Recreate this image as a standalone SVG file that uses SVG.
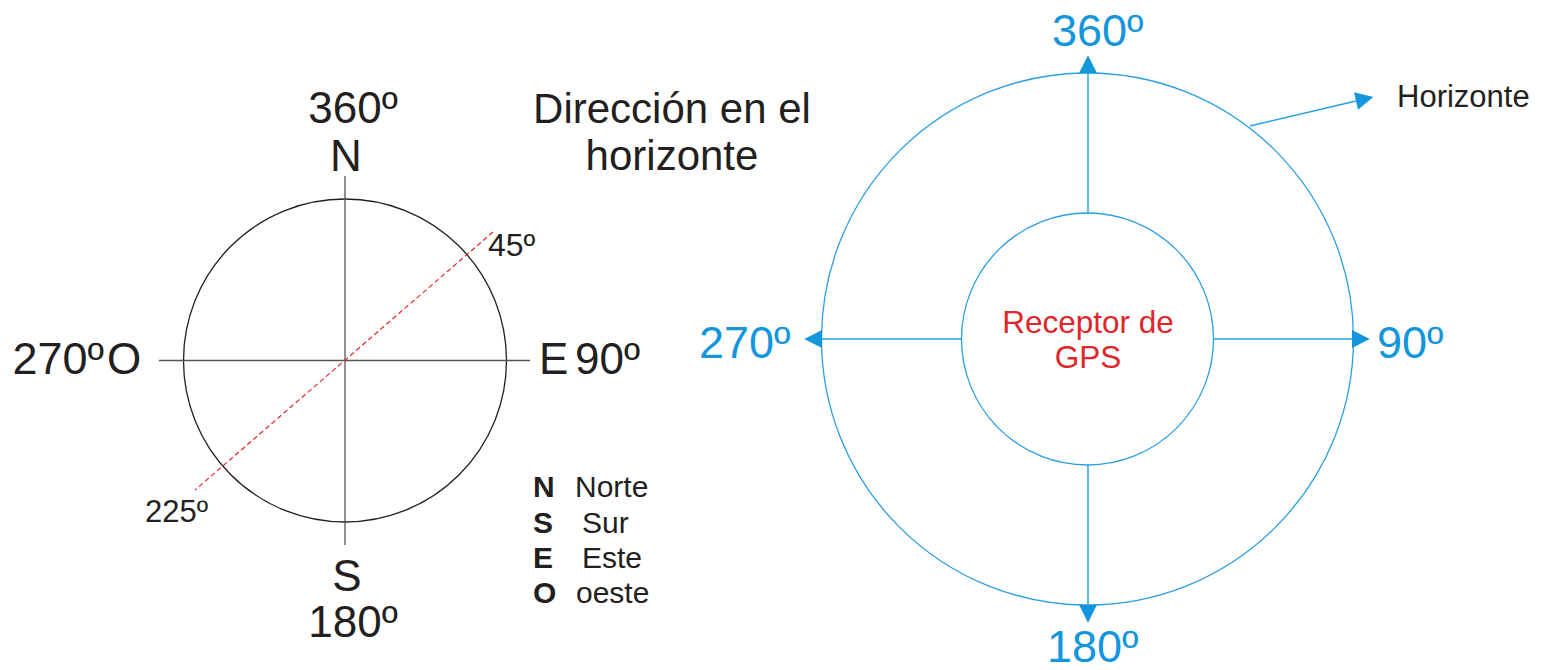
<svg xmlns="http://www.w3.org/2000/svg" width="1565" height="670" viewBox="0 0 1565 670">
<style>
  text { font-family: "Liberation Sans", Arial, sans-serif; fill: #231f20; }
  .big { font-size: 44px; }
  .mid { font-size: 30px; }
  .bold { font-weight: bold; }
  .blue { fill: #1396dc; font-size: 45px; }
  .red { fill: #e0262a; font-size: 31.5px; }
  .axis { stroke: #555; stroke-width: 1.3; fill: none; }
  .ring { stroke: #231f20; stroke-width: 1.3; fill: none; }
  .dash { stroke: #e8262a; stroke-width: 1.2; stroke-dasharray: 5 3; fill: none; }
  .bline { stroke: #2a9fe3; stroke-width: 1.3; fill: none; }
  .barrow { stroke: #2a9fe3; stroke-width: 1.5; fill: none; marker-end: url(#ah); }
</style>
<defs>
  <marker id="ah" markerUnits="userSpaceOnUse" markerWidth="20" markerHeight="20" viewBox="0 -9 17 18" refX="0" refY="0" orient="auto">
    <path d="M0,-8 L16,0 L0,8 z" fill="#1396dc"/>
  </marker>
</defs>
<rect width="1565" height="670" fill="#ffffff"/>

<g id="compass">
  <circle class="ring" cx="345" cy="360.5" r="161.5"/>
  <line class="axis" x1="345" y1="176" x2="345" y2="545"/>
  <line class="axis" x1="159" y1="360.5" x2="530" y2="360.5"/>
  <line class="dash" x1="493" y1="232" x2="195" y2="490"/>
</g>

<g id="compass-labels">
  <text class="big" x="353" y="123" text-anchor="middle">360º</text>
  <text class="big" x="346" y="171" text-anchor="middle">N</text>
  <text class="big" x="347" y="591" text-anchor="middle">S</text>
  <text class="big" x="353" y="637" text-anchor="middle">180º</text>
  <text class="big" x="104" y="374" text-anchor="end" style="font-size:45px">270º</text>
  <text class="big" x="107" y="374">O</text>
  <text class="big" x="539" y="374">E</text>
  <text class="big" x="575" y="374">90º</text>
  <text class="mid" x="488" y="256" style="font-size:32px">45º</text>
  <text class="mid" x="145" y="522" style="font-size:31px">225º</text>
</g>

<g id="title">
  <text x="672" y="123" text-anchor="middle" style="font-size:42px">Dirección en el</text>
  <text x="672" y="170" text-anchor="middle" style="font-size:42px">horizonte</text>
</g>

<g id="legend">
  <text class="mid bold" x="533" y="497">N</text><text class="mid" x="575" y="497">Norte</text>
  <text class="mid bold" x="533" y="533">S</text><text class="mid" x="582" y="533">Sur</text>
  <text class="mid bold" x="533" y="568">E</text><text class="mid" x="582" y="568">Este</text>
  <text class="mid bold" x="533" y="603">O</text><text class="mid" x="576" y="603">oeste</text>
</g>

<g id="horizon-circle">
  <circle class="bline" cx="1087.5" cy="339" r="266"/>
</g>

<g id="gps-receiver">
  <circle class="bline" cx="1087.5" cy="339" r="126"/>
  <text class="red" x="1088" y="333" text-anchor="middle">Receptor de</text>
  <text class="red" x="1088" y="368" text-anchor="middle">GPS</text>
</g>

<g id="connectors">
  <line class="barrow" x1="1088" y1="213" x2="1088" y2="73"/>
  <line class="barrow" x1="1088" y1="465" x2="1088" y2="605"/>
  <line class="barrow" x1="962" y1="339" x2="822" y2="339"/>
  <line class="barrow" x1="1213" y1="339" x2="1352" y2="339"/>
  <line class="barrow" x1="1250" y1="126" x2="1356" y2="101"/>
</g>

<g id="direction-labels">
  <text class="blue" x="1052" y="46">360º</text>
  <text class="blue" x="1047" y="662">180º</text>
  <text class="blue" x="699" y="358">270º</text>
  <text class="blue" x="1377" y="358">90º</text>
  <text class="mid" x="1397" y="107" style="font-size:31px">Horizonte</text>
</g>
</svg>
